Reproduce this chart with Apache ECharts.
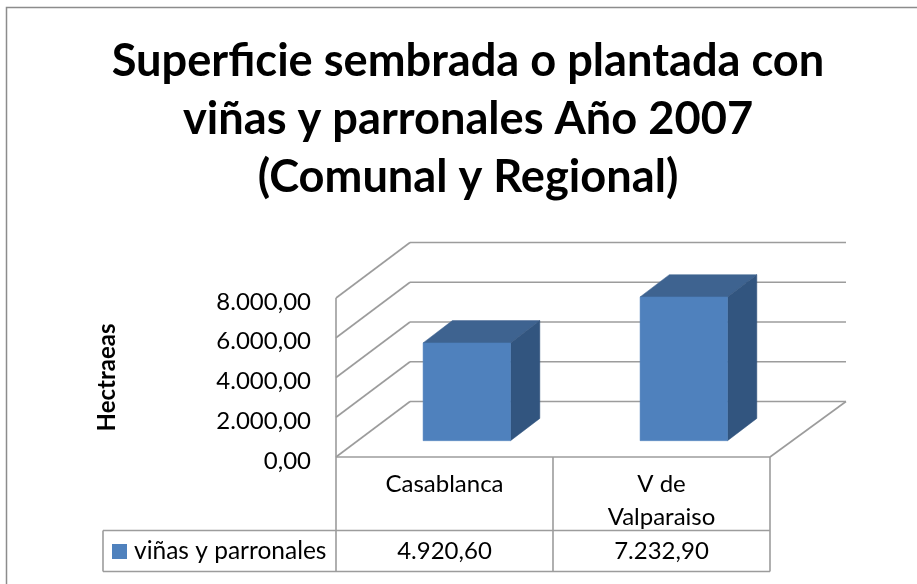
<!DOCTYPE html>
<html><head><meta charset="utf-8">
<style>html,body{margin:0;padding:0;background:#fff}#c{width:917px;height:584px}</style>
<script src="https://cdn.jsdelivr.net/npm/echarts@6/dist/echarts.min.js"></script>
</head><body><div id="c"></div>
<script>
var titleText = 'Superficie sembrada o plantada con\nviñas y parronales Año 2007\n(Comunal y Regional)';
var categories = ['Casablanca', 'V de\nValparaiso'];
var seriesName = 'viñas y parronales';
var values = [4920.6, 7232.9];
var valueLabels = ['4.920,60', '7.232,90'];
var yTicks = [0, 2000, 4000, 6000, 8000];
var yName = 'Hectraeas';

var GRID = '#9C9C9C', FONT = 'Lato, "Noto Sans", sans-serif';
var WALL_DX = 74, WALL_DY = -55.5, BAR_DX = 29.3, BAR_DY = -22.3, BASE_DX = 22.3, BASE_DY = -16.3;
var lineStyle = {stroke: GRID, lineWidth: 1.6, fill: null};
function seg(a, b) { return {type: 'line', shape: {x1: a[0], y1: a[1], x2: b[0], y2: b[1]}, style: lineStyle}; }

var chart = echarts.init(document.getElementById('c'));
chart.setOption({
  animation: false,
  backgroundColor: '#fff',
  title: {
    text: titleText, left: 463, top: 27, textAlign: 'center',
    textStyle: {fontFamily: FONT, fontSize: 45.2, fontWeight: 'bold', color: '#000', lineHeight: 58}
  },
  legend: {
    data: [seriesName], left: 112, top: 539, padding: 0, itemWidth: 15, itemHeight: 15, icon: 'rect',
    selectedMode: false,
    textStyle: {fontFamily: FONT, fontSize: 24.5, color: '#000', padding: [0, 0, 0, 2]}
  },
  grid: {left: 336, right: 147, top: 298, bottom: 127},
  xAxis: {
    type: 'category', data: categories,
    axisLine: {show: false}, axisTick: {show: false}, splitLine: {show: false},
    axisLabel: {interval: 0, margin: 11, fontFamily: FONT, fontSize: 24, color: '#000', lineHeight: 33, verticalAlign: 'top'}
  },
  yAxis: {
    type: 'value', min: 0, max: 8000, interval: 2000,
    name: yName, nameLocation: 'middle', nameRotate: 90, nameGap: 217,
    nameTextStyle: {fontFamily: FONT, fontSize: 24, fontWeight: 'bold', color: '#000'},
    axisLine: {show: false}, axisTick: {show: false}, splitLine: {show: false},
    axisLabel: {
      margin: 25, fontFamily: FONT, fontSize: 24, color: '#000', verticalAlign: 'top', lineHeight: 8,
      formatter: function (v) {
        return String(v.toFixed(0)).replace(/\B(?=(\d{3})+$)/g, '.') + ',00';
      }
    }
  },
  series: [
    { // perspective walls and floor, drawn from the y ticks
      type: 'custom', name: 'walls', coordinateSystem: 'cartesian2d', silent: true, z: 1,
      data: yTicks.map(function (t) { return [0, t]; }),
      encode: {x: 0, y: 1},
      renderItem: function (params, api) {
        var band = api.size([1, 0])[0];
        var p = api.coord([0, api.value(1)]);
        var left = p[0] - band / 2, right = left + 2 * band, y = p[1];
        var kids = [
          seg([left, y], [left + WALL_DX, y + WALL_DY]),
          seg([left + WALL_DX, y + WALL_DY], [right + WALL_DX + 2, y + WALL_DY])
        ];
        if (api.value(1) === 0) {
          kids.push(seg([left, y], [right, y]));
          kids.push(seg([right, y], [right + WALL_DX + 2, y + WALL_DY]));
        }
        if (api.value(1) === 8000) {
          kids.push(seg([left, y], [left, api.coord([0, 0])[1]]));
        }
        return {type: 'group', children: kids};
      }
    },
    { // 3D bars
      type: 'custom', name: seriesName, coordinateSystem: 'cartesian2d', z: 3,
      itemStyle: {color: '#4F81BD'},
      data: values.map(function (v, i) { return [i, v]; }),
      encode: {x: 0, y: 1},
      renderItem: function (params, api) {
        var band = api.size([1, 0])[0], w = band * 0.403;
        var top = api.coord([api.value(0), api.value(1)]);
        var base = api.coord([api.value(0), 0]);
        var x0 = top[0] - w / 2 + BASE_DX, x1 = x0 + w;
        var yt = top[1] + BASE_DY, yb = base[1] + BASE_DY;
        function poly(pts, c) { return {type: 'polygon', shape: {points: pts}, style: {fill: c, stroke: c, lineWidth: 0.5}}; }
        return {type: 'group', children: [
          poly([[x0, yt], [x1, yt], [x1 + BAR_DX, yt + BAR_DY], [x0 + BAR_DX, yt + BAR_DY]], '#3E6390'),
          poly([[x1, yt], [x1 + BAR_DX, yt + BAR_DY], [x1 + BAR_DX, yb + BAR_DY], [x1, yb]], '#32557F'),
          poly([[x0, yt], [x1, yt], [x1, yb], [x0, yb]], '#4F81BD')
        ]};
      }
    },
    { // data table: grid lines and value row
      type: 'custom', name: 'table', coordinateSystem: 'cartesian2d', silent: true, z: 2,
      data: valueLabels.map(function (s, i) { return [i, 0, s]; }),
      encode: {x: 0, y: 1},
      renderItem: function (params, api) {
        var band = api.size([1, 0])[0];
        var p = api.coord([api.value(0), 0]);
        var l = p[0] - band / 2, r = l + band, y0 = p[1];
        var y1 = y0 + 73.5, y2 = y0 + 114.5;
        var kids = [
          seg([r, y0], [r, y2]),
          seg([l, y1], [r, y1]),
          seg([l, y2], [r, y2]),
          {type: 'text', style: {
            x: p[0], y: y0 + 94, text: valueLabels[api.value(0)], align: 'center', verticalAlign: 'middle',
            fontFamily: FONT, fontSize: 24, fill: '#000'
          }}
        ];
        if (api.value(0) === 0) {
          kids.push(seg([l, y0], [l, y2]));
          kids.push(seg([103, y1], [l, y1]));
          kids.push(seg([103, y2], [l, y2]));
          kids.push(seg([103, y1], [103, y2]));
        }
        return {type: 'group', children: kids};
      }
    }
  ],
  graphic: [{
    type: 'polyline', silent: true,
    shape: {points: [[6.5, 584], [6.5, 7.5], [917, 7.5]]},
    style: {stroke: '#8C8C8C', lineWidth: 1.5, fill: null}
  }]
});
</script></body></html>
